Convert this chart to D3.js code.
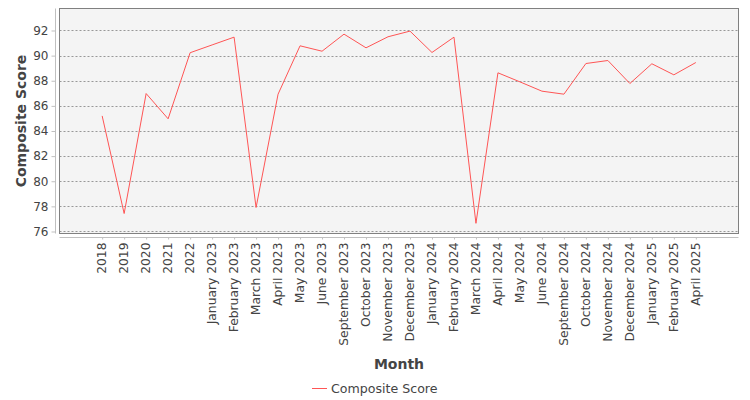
<!DOCTYPE html>
<html><head><meta charset="utf-8">
<script src="https://cdn.jsdelivr.net/npm/d3@7"></script>
<style>body{margin:0;background:#fff}svg{display:block}text{font-family:"DejaVu Sans",sans-serif}</style>
</head><body>
<svg id="c" width="750" height="400"></svg>
<script>
const categories = ["2018","2019","2020","2021","2022","January 2023","February 2023","March 2023","April 2023","May 2023","June 2023","September 2023","October 2023","November 2023","December 2023","January 2024","February 2024","March 2024","April 2024","May 2024","June 2024","September 2024","October 2024","November 2024","December 2024","January 2025","February 2025","April 2025"];
const compositeScore = [85.2,77.43,86.98,84.97,90.23,90.85,91.47,77.91,86.93,90.78,90.35,91.71,90.62,91.5,91.95,90.25,91.47,76.65,88.63,87.91,87.17,86.93,89.37,89.61,87.78,89.35,88.47,89.45];
const yTicks = [76,78,80,82,84,86,88,90,92];
const seriesName = "Composite Score";
const xTitle = "Month", yTitle = "Composite Score";

const svg = d3.select("#c");
const L = 59.5, R = 738.5, T = 8.5, B = 233.5;
const x = d3.scalePoint().domain(categories).range([L, R]).padding(1.94);
const y = d3.scaleLinear().domain([75.84, 93.75]).range([B, T]);

svg.append("rect").attr("x", L).attr("y", T).attr("width", R - L).attr("height", B - T)
  .attr("fill", "#f4f4f4");

// gridlines
svg.append("g").selectAll("line").data(yTicks).join("line")
  .attr("x1", L).attr("x2", R)
  .attr("y1", d => Math.round(y(d)) + 0.5).attr("y2", d => Math.round(y(d)) + 0.5)
  .attr("stroke", "#808080").attr("stroke-width", 0.8).attr("stroke-dasharray", "2,2");

// line
const line = d3.line().x((d, i) => x(categories[i])).y(d => y(d));
svg.append("path").datum(compositeScore).attr("d", line)
  .attr("fill", "none").attr("stroke", "#ff5555").attr("stroke-width", 1);

// border
svg.append("rect").attr("x", L).attr("y", T).attr("width", R - L).attr("height", B - T)
  .attr("fill", "none").attr("stroke", "#808080").attr("stroke-width", 1);

// y axis
const yAxis = d3.axisLeft(y).tickValues(yTicks).tickSize(4).tickPadding(3).tickFormat(d3.format("d"));
const gy = svg.append("g").attr("transform", "translate(55.5,0)").call(yAxis);
gy.select(".domain").attr("stroke", "#c0c0c0").attr("d", `M0,${T}V${B}`);
gy.selectAll(".tick line").attr("stroke", "#c0c0c0");
gy.selectAll(".tick text").attr("fill", "#444").attr("font-size", 12).attr("font-family", "DejaVu Sans");

// x axis
const xAxis = d3.axisBottom(x).tickSize(2).tickPadding(4);
const gx = svg.append("g").attr("transform", "translate(0,237.5)").call(xAxis);
gx.select(".domain").attr("stroke", "#c0c0c0").attr("d", `M${L},0H${R}`);
gx.selectAll(".tick line").attr("stroke", "#c0c0c0");
gx.selectAll(".tick text").attr("fill", "#444").attr("font-size", 12.3).attr("font-family", "DejaVu Sans")
  .attr("text-anchor", "end").attr("transform", "rotate(-90)")
  .attr("x", -5).attr("y", -1).attr("dy", "0.35em");

// axis titles
svg.append("text").attr("transform", `translate(26,${(T + B) / 2}) rotate(-90)`)
  .attr("text-anchor", "middle").attr("font-size", 14).attr("font-weight", "bold").attr("fill", "#444")
  .text(yTitle);
svg.append("text").attr("x", (L + R) / 2).attr("y", 369).attr("text-anchor", "middle")
  .attr("font-size", 14).attr("font-weight", "bold").attr("fill", "#444").text(xTitle);

// legend
const lg = svg.append("g");
lg.append("line").attr("x1", 312).attr("x2", 327).attr("y1", 388.5).attr("y2", 388.5)
  .attr("stroke", "#ff5555").attr("stroke-width", 1);
lg.append("text").attr("x", 331).attr("y", 392.5).attr("font-size", 12.6).attr("fill", "#444").text(seriesName);
</script>
</body></html>
